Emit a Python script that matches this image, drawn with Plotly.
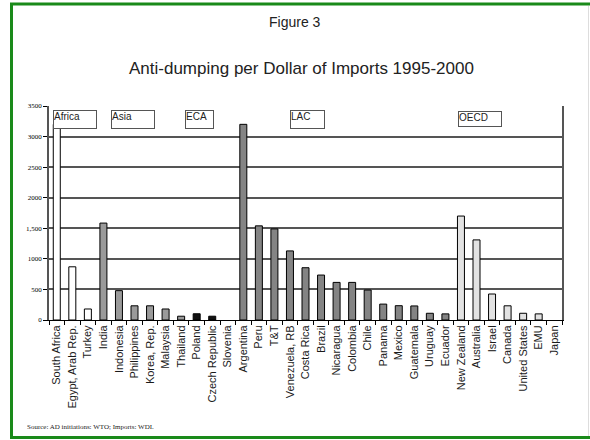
import plotly.graph_objects as go

countries = ["South Africa", "Egypt, Arab Rep.", "Turkey", "India", "Indonesia", "Philippines",
             "Korea, Rep.", "Malaysia", "Thailand", "Poland", "Czech Republic", "Slovenia",
             "Argentina", "Peru", "T&T", "Venezuela, RB", "Costa Rica", "Brazil", "Nicaragua",
             "Colombia", "Chile", "Panama", "Mexico", "Guatemala", "Uruguay", "Ecuador",
             "New Zealand", "Australia", "Israel", "Canada", "United States", "EMU", "Japan"]
values = [3200, 870, 180, 1585, 480, 232, 232, 180, 62, 102, 62, 0,
          3200, 1540, 1490, 1130, 855, 735, 615, 615, 490, 260, 234, 230, 110, 100,
          1700, 1310, 425, 232, 110, 100, 0]
regions = ["Africa", "Africa", "Africa", "Asia", "Asia", "Asia", "Asia", "Asia", "Asia",
           "ECA", "ECA", "ECA",
           "LAC", "LAC", "LAC", "LAC", "LAC", "LAC", "LAC", "LAC", "LAC", "LAC", "LAC", "LAC", "LAC", "LAC",
           "OECD", "OECD", "OECD", "OECD", "OECD", "OECD", "OECD"]
region_colors = {"Africa": "#ffffff", "Asia": "#9a9a9a", "ECA": "#111111",
                 "LAC": "#848484", "OECD": "#e2e2e2"}
y_tickvals = [0, 500, 1000, 1500, 2000, 2500, 3000, 3500]
y_ticktext = ["0", "500", "1000", "1,500", "2000", "2500", "3000", "3500"]

W, H = 590, 440
L, R, T, B = 49, 562, 106, 320   # plot area in window pixels


def px(x):
    return (x - L) / (R - L)


def py(y):
    return (B - y) / (B - T)


fig = go.Figure(go.Bar(
    x=countries, y=values,
    marker=dict(color=[region_colors[r] for r in regions],
                line=dict(color="#000000", width=[1 if v > 0 else 0 for v in values])),
    width=0.45,
))

fig.update_layout(
    width=W, height=H,
    margin=dict(l=L, r=W - R, t=T, b=H - B, pad=0),
    paper_bgcolor="#ffffff", plot_bgcolor="#ffffff",
    showlegend=False,
)
fig.update_xaxes(
    showline=True, linecolor="#000000", linewidth=1,
    ticks="outside", ticklen=4, tickcolor="#000000", tickson="boundaries",
    tickangle=-90, tickfont=dict(family="Liberation Sans, Arial, sans-serif", size=11, color="#1a1a1a"),
    showgrid=False,
)
fig.update_yaxes(
    range=[0, 3500], tickvals=y_tickvals, ticktext=y_ticktext,
    showline=True, mirror=True, linecolor="#555555", linewidth=1.5,
    ticks="outside", ticklen=4, tickcolor="#000000",
    tickfont=dict(family="Liberation Serif, Times New Roman, serif", size=7, color="#000000"),
    showgrid=True, gridcolor="#555555", gridwidth=1.5,
    zeroline=False,
)

# region label boxes (window pixel positions converted to paper coords)
boxes = [("Africa", 53, 110, 44, 19), ("Asia", 111, 110, 44, 19), ("ECA", 185, 110, 29, 19),
         ("LAC", 290, 110, 35, 19), ("OECD", 458, 111, 44, 16)]
for text, bx, by, bw, bh in boxes:
    fig.add_annotation(
        text=text, xref="paper", yref="paper", x=px(bx), y=py(by),
        xanchor="left", yanchor="top", showarrow=False,
        width=bw - 2, height=bh - 2, align="left", valign="top",
        bordercolor="#555555", borderwidth=1, borderpad=0, bgcolor="#ffffff",
        font=dict(family="Liberation Sans, Arial, sans-serif", size=10, color="#222222"),
    )

fig.add_annotation(text="Figure 3", xref="paper", yref="paper", x=px(295), y=py(22),
                   xanchor="center", yanchor="middle", showarrow=False,
                   font=dict(family="Liberation Sans, Arial, sans-serif", size=14, color="#222222"))
fig.add_annotation(text="Anti-dumping per Dollar of Imports 1995-2000", xref="paper", yref="paper",
                   x=px(301), y=py(68), xanchor="center", yanchor="middle", showarrow=False,
                   font=dict(family="Liberation Sans, Arial, sans-serif", size=17, color="#222222"))
fig.add_annotation(text="Source: AD initiations: WTO; Imports: WDI.", xref="paper", yref="paper",
                   x=px(25), y=py(427), xanchor="left", yanchor="middle", showarrow=False,
                   font=dict(family="Liberation Serif, Times New Roman, serif", size=7, color="#222222"))

# green frame: top, left and bottom edges (right edge is cut off in the original)
green = dict(color="#1a8a1a", width=3)
fig.add_shape(type="rect", xref="paper", yref="paper",
              x0=px(11.5), x1=px(640), y0=py(437.5), y1=py(4),
              line=green, fillcolor="rgba(0,0,0,0)", layer="above")
fig.add_shape(type="line", xref="paper", yref="paper",
              x0=px(588.5), x1=px(588.5), y0=py(436), y1=py(6),
              line=dict(color="#dddddd", width=1))

fig.write_html("out.html", config={"displayModeBar": False},
               post_script="document.body.style.margin='0';")
